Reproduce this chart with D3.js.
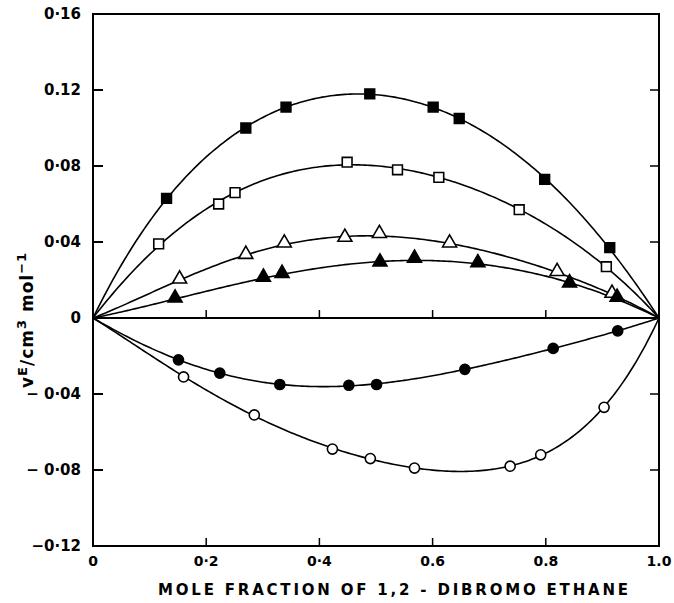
<!DOCTYPE html>
<html>
<head>
<meta charset="utf-8">
<script src="https://cdn.jsdelivr.net/npm/d3@7"></script>
<style>
  body { margin: 0; background: #fff; }
  svg { display: block; }
  text { font-family: "DejaVu Sans", sans-serif; fill: #000; }
</style>
</head>
<body>
<div id="chart"></div>
<script>
// Data: mole fraction x and excess volume (cm3 mol-1)
const filledSquareX = [0.130, 0.270, 0.341, 0.489, 0.601, 0.647, 0.798, 0.913];
const filledSquareY = [0.063, 0.100, 0.111, 0.118, 0.111, 0.105, 0.073, 0.037];
const openSquareX = [0.116, 0.222, 0.251, 0.449, 0.538, 0.611, 0.753, 0.907];
const openSquareY = [0.039, 0.060, 0.066, 0.082, 0.078, 0.074, 0.057, 0.027];
const openTriX = [0.153, 0.270, 0.338, 0.445, 0.506, 0.630, 0.820, 0.917];
const openTriY = [0.020, 0.033, 0.039, 0.042, 0.044, 0.039, 0.024, 0.0125];
const filledTriX = [0.145, 0.301, 0.334, 0.507, 0.568, 0.680, 0.842, 0.926];
const filledTriY = [0.010, 0.021, 0.023, 0.029, 0.031, 0.0286, 0.018, 0.0104];
const filledCircleX = [0.151, 0.224, 0.330, 0.452, 0.501, 0.657, 0.813, 0.927];
const filledCircleY = [-0.022, -0.029, -0.035, -0.0354, -0.035, -0.027, -0.016, -0.0068];
const openCircleX = [0.160, 0.285, 0.423, 0.490, 0.568, 0.737, 0.791, 0.903];
const openCircleY = [-0.031, -0.051, -0.069, -0.074, -0.079, -0.078, -0.072, -0.047];

const yTicks = [0.16, 0.12, 0.08, 0.04, 0, -0.04, -0.08, -0.12];
const yTickLabels = ['0·16', '0.12', '0·08', '0·04', '0', '\u2212 0·04', '\u2212 0·08', '\u22120·12'];
const xTicks = [0, 0.2, 0.4, 0.6, 0.8, 1.0];
const xTickLabels = ['0', '0·2', '0·4', '0.6', '0.8', '1.0'];

const series = [
    { xs: filledSquareX, ys: filledSquareY, shape: 'square', filled: true },
    { xs: openSquareX, ys: openSquareY, shape: 'square', filled: false },
    { xs: openTriX, ys: openTriY, shape: 'triangle', filled: false },
    { xs: filledTriX, ys: filledTriY, shape: 'triangle', filled: true },
    { xs: filledCircleX, ys: filledCircleY, shape: 'circle', filled: true },
    { xs: openCircleX, ys: openCircleY, shape: 'circle', filled: false },
];

const width = 674;
const height = 603;
const margin = { top: 14, right: 15, bottom: 57, left: 93 };

const x = d3.scaleLinear().domain([0, 1]).range([margin.left, width - margin.right]);
const y = d3.scaleLinear().domain([-0.12, 0.16]).range([height - margin.bottom, margin.top]);

// Least-squares Redlich-Kister fit: y = x(1-x) * sum A_k (2x-1)^k
function fitRK(xs, ys, n) {
    const basis = (t) => d3.range(n).map((k) => t * (1 - t) * Math.pow(2 * t - 1, k));
    const M = d3.range(n).map(() => new Array(n + 1).fill(0));
    xs.forEach((t, i) => {
        const b = basis(t);
        for (let r = 0; r < n; r++) {
            for (let c = 0; c < n; c++) M[r][c] += b[r] * b[c];
            M[r][n] += b[r] * ys[i];
        }
    });
    for (let p = 0; p < n; p++) {
        let best = p;
        for (let r = p + 1; r < n; r++) if (Math.abs(M[r][p]) > Math.abs(M[best][p])) best = r;
        [M[p], M[best]] = [M[best], M[p]];
        for (let r = 0; r < n; r++) {
            if (r === p) continue;
            const f = M[r][p] / M[p][p];
            for (let c = p; c <= n; c++) M[r][c] -= f * M[p][c];
        }
    }
    const A = M.map((row, i) => row[n] / row[i]);
    return (t) => d3.sum(basis(t), (v, k) => v * A[k]);
}

const svg = d3.select('#chart')
    .append('svg')
    .attr('width', width)
    .attr('height', height);

const x0 = x(0), x1 = x(1), yTop = y(0.16), yBot = y(-0.12);

// Frame
svg.append('rect')
    .attr('x', x0).attr('y', yTop)
    .attr('width', x1 - x0).attr('height', yBot - yTop)
    .attr('fill', 'none').attr('stroke', '#000').attr('stroke-width', 2);

// Zero line
svg.append('line')
    .attr('x1', x0).attr('x2', x1).attr('y1', y(0)).attr('y2', y(0))
    .attr('stroke', '#000').attr('stroke-width', 2);

// Left and right ticks (inward)
const yInner = yTicks.filter((d) => d !== 0.16 && d !== -0.12 && d !== 0);
svg.append('g').selectAll('line').data(yInner).join('line')
    .attr('x1', x0).attr('x2', x0 + 10)
    .attr('y1', (d) => y(d)).attr('y2', (d) => y(d))
    .attr('stroke', '#000').attr('stroke-width', 2);
svg.append('g').selectAll('line').data(yInner).join('line')
    .attr('x1', x1).attr('x2', x1 - 9)
    .attr('y1', (d) => y(d)).attr('y2', (d) => y(d))
    .attr('stroke', '#000').attr('stroke-width', 1.5);

// Bottom and zero-line ticks (upward)
const xInner = xTicks.filter((d) => d > 0 && d < 1);
[yBot, y(0)].forEach((base) => {
    svg.append('g').selectAll('line').data(xInner).join('line')
        .attr('x1', (d) => x(d)).attr('x2', (d) => x(d))
        .attr('y1', base).attr('y2', base - 8)
        .attr('stroke', '#000').attr('stroke-width', 1.5);
});

// Tick labels
svg.append('g').selectAll('text').data(yTicks).join('text')
    .attr('x', x0 - 12)
    .attr('y', (d) => y(d))
    .attr('dy', '0.36em')
    .attr('text-anchor', 'end')
    .style('font-size', '15px')
    .style('font-weight', 'bold')
    .text((d, i) => yTickLabels[i]);

svg.append('g').selectAll('text').data(xTicks).join('text')
    .attr('x', (d) => x(d))
    .attr('y', yBot + 20)
    .attr('text-anchor', 'middle')
    .style('font-size', '14px')
    .style('font-weight', 'bold')
    .text((d, i) => xTickLabels[i]);

// Axis titles
svg.append('text')
    .attr('x', 158).attr('y', 595)
    .attr('textLength', 470)
    .attr('lengthAdjust', 'spacing')
    .style('font-size', '15px')
    .style('font-weight', '600')
    .text('MOLE  FRACTION  OF  1,2 - DIBROMO ETHANE');

const yTitle = svg.append('text')
    .attr('transform', `translate(33, ${y(0) + 70}) rotate(-90)`)
    .style('font-size', '17px')
    .style('font-weight', '600')
    .style('letter-spacing', '1px');
yTitle.append('tspan').text('v');
yTitle.append('tspan').attr('dy', -6).style('font-size', '13px').text('E');
yTitle.append('tspan').attr('dy', 6).text('/cm');
yTitle.append('tspan').attr('dy', -7).style('font-size', '13px').text('3');
yTitle.append('tspan').attr('dy', 7).text(' mol');
yTitle.append('tspan').attr('dy', -7).style('font-size', '13px').text('\u22121');

// Fitted curves
const line = d3.line().x((d) => x(d[0])).y((d) => y(d[1]));
const grid = d3.range(0, 1.0001, 0.005);
series.forEach((s) => {
    const f = fitRK(s.xs, s.ys, 4);
    svg.append('path')
        .datum(grid.map((t) => [t, f(t)]))
        .attr('d', line)
        .attr('fill', 'none')
        .attr('stroke', '#000')
        .attr('stroke-width', 1.6);
});

// Markers
const symbols = { square: d3.symbolSquare, triangle: d3.symbolTriangle, circle: d3.symbolCircle };
const sizes = { square: 95, triangle: 85, circle: 80 };
series.forEach((s) => {
    const sym = d3.symbol().type(symbols[s.shape]).size(sizes[s.shape]);
    svg.append('g').selectAll('path')
        .data(s.xs.map((v, i) => [v, s.ys[i]]))
        .join('path')
        .attr('transform', (d) => `translate(${x(d[0])},${y(d[1]) + (s.shape === 'triangle' ? -1 : 0)})`)
        .attr('d', sym)
        .attr('fill', s.filled ? '#000' : '#fff')
        .attr('stroke', '#000')
        .attr('stroke-width', 1.6);
});
</script>
</body>
</html>
